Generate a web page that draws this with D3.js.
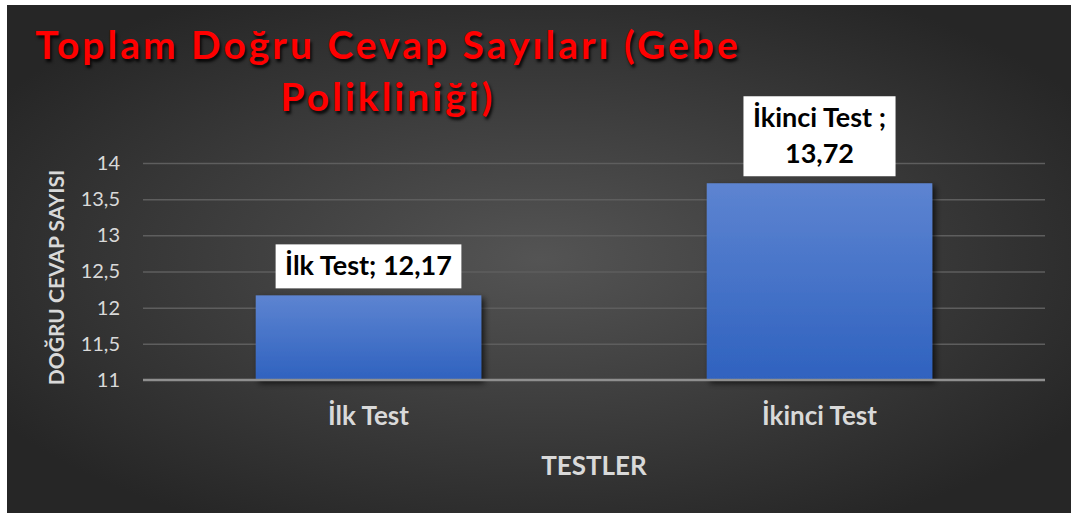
<!DOCTYPE html>
<html>
<head>
<meta charset="utf-8">
<script src="https://cdn.jsdelivr.net/npm/d3@7"></script>
<style>
  html, body { margin: 0; padding: 0; background: #fff; }
  svg { display: block; }
  text { font-family: Lato, "Open Sans", sans-serif; }
</style>
</head>
<body>
<div id="chart"></div>
<script>
// ── Data ─────────────────────────────────────────────────────────────
const categories = ['İlk Test', 'İkinci Test'];
const values     = [12.17, 13.72];
const labelLines = [['İlk Test; 12,17'], ['İkinci Test ;', '13,72']];
const yTicks     = [11, 11.5, 12, 12.5, 13, 13.5, 14];
const titleLines = ['Toplam Doğru Cevap Sayıları (Gebe', 'Polikliniği)'];

const W = 1071, H = 513;
const M = { top: 163, right: 26, bottom: 133, left: 143 };
const iw = W - M.left - M.right;
const ih = H - M.top - M.bottom;

const svg = d3.select('#chart').append('svg').attr('width', W).attr('height', H);
const defs = svg.append('defs');

// ── Background ───────────────────────────────────────────────────────
const bg = defs.append('radialGradient').attr('id', 'bg')
  .attr('cx', '50%').attr('cy', '50%').attr('r', '60%');
bg.append('stop').attr('offset', '0%').attr('stop-color', '#545454');
bg.append('stop').attr('offset', '100%').attr('stop-color', '#262626');

const barGrad = defs.append('linearGradient').attr('id', 'bar')
  .attr('x1', 0).attr('y1', 0).attr('x2', 0).attr('y2', 1);
barGrad.append('stop').attr('offset', '0%').attr('stop-color', '#5d84d1');
barGrad.append('stop').attr('offset', '100%').attr('stop-color', '#2f62bf');

const shadow = defs.append('filter').attr('id', 'shadow')
  .attr('x', '-10%').attr('y', '-10%').attr('width', '130%').attr('height', '130%');
shadow.append('feDropShadow').attr('dx', 3).attr('dy', 3).attr('stdDeviation', 3)
  .attr('flood-color', '#000').attr('flood-opacity', 0.7);

svg.append('rect').attr('x', 7).attr('y', 5).attr('width', W - 7).attr('height', H - 5)
  .attr('fill', 'url(#bg)');

const g = svg.append('g').attr('transform', `translate(${M.left},${M.top})`);

// ── Scales ───────────────────────────────────────────────────────────
const x = d3.scaleBand().domain(categories).range([0, iw]).paddingInner(0.5).paddingOuter(0.25);
const y = d3.scaleLinear().domain([11, 14]).range([ih, 0]);

// ── Grid ─────────────────────────────────────────────────────────────
g.append('g')
  .call(d3.axisLeft(y).tickValues(yTicks.slice(1)).tickSize(-iw).tickFormat(''))
  .call(gr => gr.select('.domain').remove())
  .call(gr => gr.selectAll('line').attr('stroke', '#5e5e5e').attr('stroke-width', 1.5));

// ── Y axis labels ────────────────────────────────────────────────────
g.append('g')
  .call(d3.axisLeft(y).tickValues(yTicks).tickSize(0).tickPadding(23)
    .tickFormat(d => String(d).replace('.', ',')))
  .call(gr => gr.select('.domain').remove())
  .call(gr => gr.selectAll('text').attr('fill', '#d9d9d9').attr('font-size', 20));

// ── Bars ─────────────────────────────────────────────────────────────
g.selectAll('rect.bar')
  .data(categories)
  .join('rect')
    .attr('class', 'bar')
    .attr('x', d => x(d))
    .attr('width', x.bandwidth())
    .attr('y', (d, i) => y(values[i]))
    .attr('height', (d, i) => ih - y(values[i]))
    .attr('fill', 'url(#bar)')
    .attr('filter', 'url(#shadow)');

// ── Baseline ─────────────────────────────────────────────────────────
g.append('line').attr('x1', 0).attr('x2', iw).attr('y1', ih).attr('y2', ih)
  .attr('stroke', '#8f8f8f').attr('stroke-width', 2.5);

// ── X axis labels ────────────────────────────────────────────────────
g.append('g').attr('transform', `translate(0,${ih})`)
  .call(d3.axisBottom(x).tickSize(0).tickPadding(27))
  .call(gr => gr.select('.domain').remove())
  .call(gr => gr.selectAll('text').attr('fill', '#d9d9d9')
    .attr('font-size', 26).attr('font-weight', 700));

// ── Data labels ──────────────────────────────────────────────────────
const lineH = 36;
categories.forEach((c, i) => {
  const lines = labelLines[i];
  const cx = x(c) + x.bandwidth() / 2;
  const bh = lines.length * lineH + 8;
  const by = y(values[i]) - 7 - bh;
  const lg = g.append('g');
  const tx = lg.append('text').attr('text-anchor', 'middle')
    .attr('font-size', 27).attr('font-weight', 700).attr('fill', '#000');
  lines.forEach((t, k) => tx.append('tspan').attr('x', cx)
    .attr('y', by + 31 + k * lineH).text(t));
  const bw = d3.max(tx.selectAll('tspan').nodes(), n => n.getComputedTextLength()) + 19;
  lg.insert('rect', 'text').attr('x', cx - bw / 2).attr('y', by)
    .attr('width', bw).attr('height', bh).attr('fill', '#fff');
});

// ── Axis titles ──────────────────────────────────────────────────────
g.append('text').attr('x', iw / 2).attr('y', ih + 95)
  .attr('text-anchor', 'middle').attr('fill', '#d9d9d9')
  .attr('font-size', 26).attr('font-weight', 700).text('TESTLER');

g.append('text').attr('transform', `translate(${-79},${ih / 2 + 6}) rotate(-90)`)
  .attr('text-anchor', 'middle').attr('fill', '#d9d9d9')
  .attr('font-size', 21).attr('font-weight', 700).text('DOĞRU CEVAP SAYISI');

// ── Title ────────────────────────────────────────────────────────────
const title = svg.append('text').attr('text-anchor', 'middle')
  .attr('font-size', 39).attr('font-weight', 700).attr('fill', '#ff0000')
  .attr('letter-spacing', 3.0)
  .style('text-shadow', '2px 3px 3px rgba(0,0,0,0.85)');
titleLines.forEach((t, k) => title.append('tspan')
  .attr('x', 388).attr('y', 59 + k * 52).text(t));
</script>
</body>
</html>
